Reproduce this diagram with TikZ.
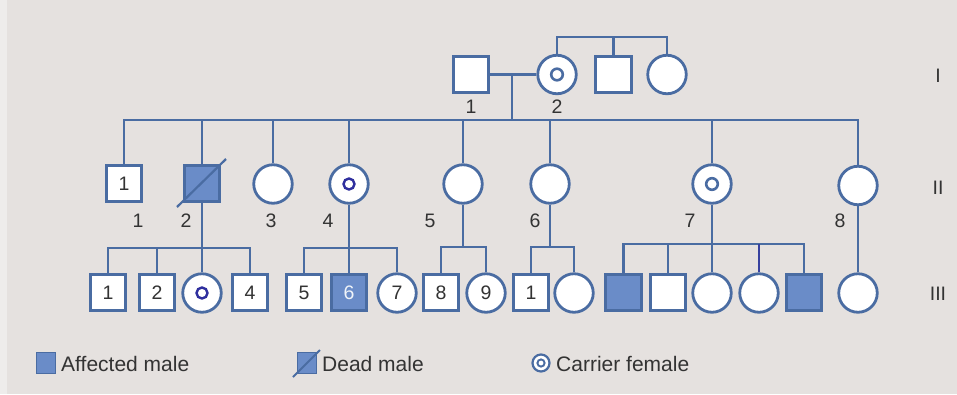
\documentclass[tikz,border=0pt]{standalone}
\usepackage{fontspec}
\setmainfont{Liberation Sans}
\usetikzlibrary{calc}
\definecolor{bg}{HTML}{E5E1DF}
\definecolor{bgl}{HTML}{EEECEB}
\definecolor{lc}{HTML}{4A6CA2}
\definecolor{af}{HTML}{6A8CC8}
\definecolor{ringc}{HTML}{2F2F9E}
\definecolor{tc}{HTML}{333333}
\newcommand\numf{\fontsize{19.5}{19.5}\selectfont}
\newcommand\legf{\fontsize{21}{21}\selectfont}
\begin{document}
\begin{tikzpicture}[x=1pt,y=-1pt,
  male/.style={rectangle, draw=lc, line width=2.8pt, fill=white, minimum size=35.5pt, inner sep=0pt, text=tc, font=\numf},
  female/.style={circle, draw=lc, line width=2.8pt, fill=white, minimum size=38.5pt, inner sep=0pt, text=tc, font=\numf},
  aff/.style={fill=af},
  carrierA/.style={path picture={\draw[ringc, line width=2.4pt] (path picture bounding box.center) circle[radius=5.5pt];}},
  carrierB/.style={path picture={\draw[lc, line width=2.6pt] (path picture bounding box.center) circle[radius=5.8pt];}},
  conn/.style={draw=lc, line width=2.8pt},
  lab/.style={text=tc, font=\numf, inner sep=0pt},
  leg/.style={text=tc, font=\legf, inner sep=0pt, anchor=base west}
]
\useasboundingbox (0,0) rectangle (957,394);
\fill[bg] (0,0) rectangle (957,394);
\fill[bgl] (0,0) rectangle (7,394);

% Generation I
\node[male] (I1) at (471,74.5) {};
\node[female, carrierB] (I2) at (557,74.5) {};
\node[male] (I3) at (613.5,74.5) {};
\node[female] (I4) at (667,74.5) {};
\node[lab] (lI1) at (471,107) {1};
\node[lab] (lI2) at (557,107) {2};
\coordinate (sI) at (613.5,37);
\coordinate (mI) at (512,74.5);
\coordinate (sII) at (512,120);

% Generation II
\node[male] (II1) at (124,183.5) {1};
\node[male, aff] (II2) at (202,183.5) {};
\node[female] (II3) at (273,184) {};
\node[female, carrierA] (II4) at (349,184) {};
\node[female] (II5) at (463,184) {};
\node[female] (II6) at (550,184) {};
\node[female, carrierB] (II7) at (712,184) {};
\node[female] (II8) at (858,185.5) {};
\node[lab] (lII1) at (138,221) {1};
\node[lab] (lII2) at (186,221) {2};
\node[lab] (lII3) at (271,221) {3};
\node[lab] (lII4) at (328,221) {4};
\node[lab] (lII5) at (430,221) {5};
\node[lab] (lII6) at (535,221) {6};
\node[lab] (lII7) at (690,221) {7};
\node[lab] (lII8) at (840,221) {8};

% Generation III
\node[male] (III1) at (108,292.5) {1};
\node[male] (III2) at (157,292.5) {2};
\node[female, carrierA] (III3) at (202,293) {};
\node[male] (III4) at (250,292.5) {4};
\node[male] (III5) at (304,292.5) {5};
\node[male, aff, text=white!90!af] (III6) at (349,292.5) {6};
\node[female] (III7) at (397,293) {7};
\node[male] (III8) at (441,292.5) {8};
\node[female] (III9) at (486,293) {9};
\node[male] (III10) at (531,292.5) {1};
\node[female] (III11) at (574,293) {};
\node[male, aff] (III12) at (623.5,292.5) {};
\node[male] (III13) at (668,292.5) {};
\node[female] (III14) at (712,293) {};
\node[female] (III15) at (759,293) {};
\node[male, aff] (III16) at (804,292.5) {};
\node[female] (III17) at (858,293) {};

% generation labels
\node[lab] (gI) at (938,76) {I};
\node[lab] (gII) at (938,188) {II};
\node[lab] (gIII) at (938,294) {III};

% connectors generation I
\draw[conn] (I1.east |- mI) -- (I2.west |- mI);
\draw[conn] (I2.north) |- (sI) -| (I4.north);
\draw[conn] (I3.north) -- (I3.north |- sI);
\draw[conn] (mI) -- (sII);

% sibship II
\draw[conn] (II1.north) |- (sII) -| (II8.north);
\foreach \n in {II2,II3,II4,II5,II6,II7}
  \draw[conn] (\n.north) -- (\n.north |- sII);

% dead slash
\draw[lc, line width=2.2pt] ($(II2.center)+(-25,23.5)$) -- ($(II2.center)+(24,-24.5)$);

% family of II2
\coordinate (sA) at (202,248);
\draw[conn] (II2.south) -- (III3.north);
\draw[conn] (III1.north) |- (sA) -| (III4.north);
\draw[conn] (III2.north) -- (III2.north |- sA);

% family of II4
\coordinate (sB) at (349,248);
\draw[conn] (II4.south) -- (III6.north);
\draw[conn] (III5.north) |- (sB) -| (III7.north);

% family of II5
\coordinate (sC) at (463,247);
\draw[conn] (II5.south) -- (sC);
\draw[conn] (III8.north) |- (sC) -| (III9.north);

% family of II6
\coordinate (sD) at (550,247);
\draw[conn] (II6.south) -- (sD);
\draw[conn] (III10.north) |- (sD) -| (III11.north);

% family of II7
\coordinate (sE) at (712,244);
\draw[conn] (II7.south) -- (III14.north);
\draw[conn] (III12.north) |- (sE) -| (III16.north);
\draw[conn] (III13.north) -- (III13.north |- sE);
\draw[draw=ringc!70!lc, line width=2.6pt] (III15.north) -- (III15.north |- sE);

% II8
\draw[conn] (II8.south) -- (III17.north);

% legend
\node[rectangle, fill=af, draw=lc, line width=0.6pt, minimum width=19pt, minimum height=21pt, inner sep=0pt] (Laf) at (46,363) {};
\node[leg] (Laft) at (61,371) {Affected male};
\node[rectangle, fill=af, draw=lc, line width=0.6pt, minimum width=19pt, minimum height=21pt, inner sep=0pt] (Ld) at (307,363) {};
\draw[lc, line width=2pt] ($(Ld.center)+(-14,14)$) -- ($(Ld.center)+(13,-13)$);
\node[leg] (Ldt) at (322,371) {Dead male};
\node[circle, draw=lc, line width=2.2pt, fill=white, minimum size=17pt, inner sep=0pt] (Lc) at (541,363) {};
\draw[lc, line width=1.9pt] (Lc.center) circle[radius=3.6pt];
\node[leg] (Lct) at (556,371) {Carrier female};
\end{tikzpicture}
\end{document}
